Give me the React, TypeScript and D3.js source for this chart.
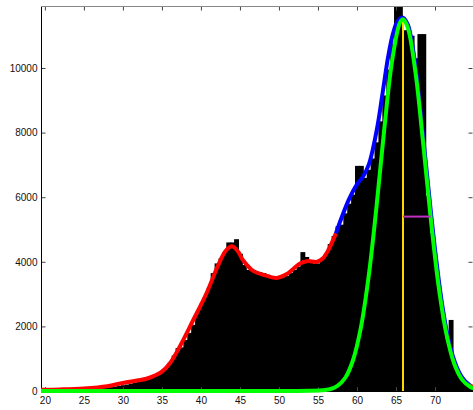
import React, { useRef, useEffect } from 'react';
import * as d3 from 'd3';

// histogram, bins 0.5 wide, centres 20 .. 74.5
const binCentres = d3.range(20, 75, 0.5);
const binCounts = [
  20, 20, 25, 25, 30, 30, 35, 40, 45, 50,
  55, 60, 65, 70, 80, 90, 100, 120, 140, 160,
  180, 200, 230, 260, 290, 330, 370, 460, 460, 500,
  580, 700, 880, 1100, 1330, 1350, 1580, 1800, 2050, 2400,
  2700, 2900, 3200, 3650, 3950, 4100, 4300, 4600, 4600, 4700,
  4250, 3900, 3750, 3750, 3700, 3680, 3650, 3600, 3550, 3500,
  3500, 3520, 3560, 3650, 3750, 3850, 4300, 4150, 4000, 3950,
  3950, 4050, 4250, 4550, 4800, 5100, 5150, 5500, 5800, 6080,
  6970, 6970, 6600, 6850, 7200, 7700, 8350, 9150, 9950, 10750,
  12000, 12000, 11170, 11170, 11000, 10300, 11050, 11050, 6050, 4900,
  3880, 2950, 2180, 1600, 2200, 760, 500, 330, 210, 130,
];

// fitted mixture (total)
const mixLeft: [number, number][] = [
  [19.5, 40], [22, 50], [25, 80], [28, 150], [30, 250], [32, 330], [33, 380],
  [34, 470], [35, 600], [36, 850], [37.3, 1380], [39, 2190], [40.7, 3020],
  [42.2, 3890], [43.2, 4350], [44, 4480], [44.8, 4300], [45.4, 4050],
  [46.7, 3720], [48, 3600], [49.7, 3500], [51, 3620], [52.7, 3950],
  [53.6, 4020], [54.9, 4000], [55.6, 4100], [56.3, 4350], [57.3, 4880],
];
const mixMid: [number, number][] = [
  [57.3, 4880], [58, 5350], [59, 5950], [60, 6400], [60.8, 6650], [61.5, 7000],
  [62, 7450], [62.7, 8300], [63.3, 9250], [64, 10350], [64.6, 11050],
  [65.2, 11450], [65.9, 11560], [66.5, 11350], [67, 10850], [67.5, 10050],
  [68, 8980], [68.5, 7820], [69, 6650], [69.5, 5470], [70, 4380], [70.5, 3400],
  [71, 2550], [71.5, 1850], [72, 1320], [72.5, 920], [73, 620], [73.5, 410],
  [74, 270], [74.5, 170],
];
const mixRight: [number, number][] = [[74.5, 170], [75, 110]];

// last component
const compPoints: [number, number][] = [
  [19.5, 0], [50, 0], [54, 5], [55.5, 20], [56.5, 54], [57.5, 160], [58.5, 410],
  [59.5, 960], [60.5, 1960], [61.5, 3550], [62.5, 5700], [63.5, 8110],
  [64.5, 10220], [65.5, 11400], [65.9, 11510], [66.5, 11260], [67.5, 9860],
  [68.5, 7630], [69.5, 5240], [70.5, 3180], [71.5, 1720], [72.5, 820],
  [73.5, 345], [74.5, 130], [75, 75],
];
const compMean = 65.9;
const compPeak = 11510;
const widthLine = { from: 65.9, to: 69.45, level: 5400 };

const xTicks = [20, 25, 30, 35, 40, 45, 50, 55, 60, 65, 70];
const yTicks = [0, 2000, 4000, 6000, 8000, 10000];

const W = 473;
const H = 410;

const App = () => {
  const svgRef = useRef<SVGSVGElement>(null);

  useEffect(() => {
    const svg = d3.select(svgRef.current);
    svg.selectAll('*').remove();

    const x = d3.scaleLinear().domain([19.5, 75]).range([41, 474]);
    const y = d3.scaleLinear().domain([0, 11920]).range([391, 6]);

    svg.append('defs').append('clipPath').attr('id', 'plotclip')
      .append('rect').attr('x', 41).attr('y', 6).attr('width', 433).attr('height', 385);

    // bars (slightly widened so neighbours overlap, no seams)
    svg.append('g').attr('clip-path', 'url(#plotclip)')
      .selectAll('rect')
      .data(binCentres)
      .join('rect')
      .attr('x', (c) => x(c - 0.25))
      .attr('width', (c) => x(c + 0.25) - x(c - 0.25) + 1)
      .attr('y', (c, i) => y(binCounts[i]))
      .attr('height', (c, i) => y(0) - y(binCounts[i]))
      .attr('fill', '#000');

    // axes box
    const font = 'Liberation Sans, Arial, sans-serif';
    const left = svg.append('g').attr('transform', 'translate(41.5,0)')
      .call(d3.axisLeft(y).tickValues(yTicks).tickFormat(d3.format('d')).tickSize(-4).tickPadding(4).tickSizeOuter(0));
    const bottom = svg.append('g').attr('transform', 'translate(0,391)')
      .call(d3.axisBottom(x).tickValues(xTicks).tickFormat(d3.format('d')).tickSize(-4).tickPadding(6).tickSizeOuter(0));
    const top = svg.append('g').attr('transform', 'translate(0,6.5)')
      .call(d3.axisTop(x).tickValues(xTicks).tickSize(-4).tickFormat(() => '').tickSizeOuter(0));
    const right = svg.append('g').attr('transform', 'translate(472.5,0)')
      .call(d3.axisRight(y).tickValues(yTicks).tickSize(-4).tickFormat(() => '').tickSizeOuter(0));
    [left, bottom, top, right].forEach((g) => {
      g.select('.domain').remove();
      g.selectAll('line').attr('stroke', '#444');
      g.selectAll('text').attr('font-family', font).attr('font-size', 10).attr('fill', '#111');
    });
    svg.append('line').attr('x1', 41.5).attr('x2', 41.5).attr('y1', 6).attr('y2', 391.5)
      .attr('stroke', '#000');
    svg.append('line').attr('x1', 41).attr('x2', 474).attr('y1', 391.5).attr('y2', 391.5)
      .attr('stroke', '#000');
    svg.append('line').attr('x1', 41).attr('x2', 474).attr('y1', 6.5).attr('y2', 6.5)
      .attr('stroke', '#888');

    const line = d3.line<[number, number]>()
      .x((d) => x(d[0]))
      .y((d) => y(d[1]))
      .curve(d3.curveCatmullRom.alpha(0.5));

    svg.append('path').attr('d', line(mixLeft)).attr('fill', 'none')
      .attr('stroke', '#ff0000').attr('stroke-width', 4);
    svg.append('path').attr('d', line(mixMid)).attr('fill', 'none')
      .attr('stroke', '#0000ff').attr('stroke-width', 4);
    svg.append('path').attr('d', line(mixRight)).attr('fill', 'none')
      .attr('stroke', '#ff0000').attr('stroke-width', 4);

    // mean marker
    svg.append('line')
      .attr('x1', x(compMean)).attr('x2', x(compMean))
      .attr('y1', y(0)).attr('y2', y(compPeak))
      .attr('stroke', '#ffd800').attr('stroke-width', 2);

    svg.append('path').attr('d', line(compPoints)).attr('fill', 'none')
      .attr('stroke', '#00ff00').attr('stroke-width', 4);

    svg.append('line')
      .attr('x1', x(widthLine.from)).attr('x2', x(widthLine.to))
      .attr('y1', y(widthLine.level)).attr('y2', y(widthLine.level))
      .attr('stroke', '#c030c0').attr('stroke-width', 2);
  }, []);

  return (
    <svg
      ref={svgRef}
      width={W}
      height={H}
      style={{ position: 'absolute', left: 0, top: 0, background: '#fff' }}
    />
  );
};

export default App;
